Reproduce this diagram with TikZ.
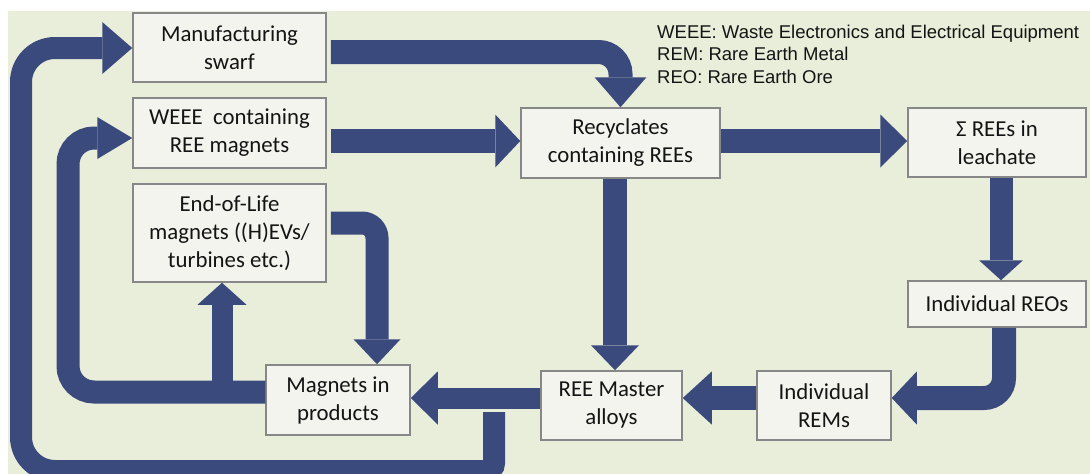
\documentclass[tikz,border=0pt]{standalone}
\usepackage{fontspec}
\setmainfont{Carlito}
\newfontfamily\legendfont{Liberation Sans}
\usetikzlibrary{arrows.meta}
\definecolor{bgc}{RGB}{233,238,218}
\definecolor{boxfill}{RGB}{244,244,239}
\definecolor{boxline}{RGB}{135,135,135}
\definecolor{arrowc}{RGB}{58,74,125}
\definecolor{txt}{RGB}{20,20,20}
\begin{document}
\begin{tikzpicture}[x=1pt,y=-1pt,
  box/.style={draw=boxline, fill=boxfill, line width=1.5pt, inner sep=0pt,
    align=center, text=txt, font=\fontsize{22.8}{28}\selectfont},
  flow/.style 2 args={draw=arrowc, line width=24pt, line cap=butt,
    -{Triangle[length=#1,width=#2,line width=0pt]}},
  legend/.style={anchor=base west, inner sep=0pt, text=txt,
    font=\legendfont\fontsize{18.5}{22.5}\selectfont}]
\useasboundingbox (0,0) rectangle (1090,474);
\fill[bgc] (8,11) rectangle (1090,474);

% boxes
\node[box, minimum width=193pt, minimum height=69pt] (ms) at (229.5,47.5) {Manufacturing\\swarf};
\node[box, minimum width=193pt, minimum height=70pt] (weee) at (229.5,133) {WEEE~ containing\\REE magnets};
\node[box, minimum width=193pt, minimum height=98pt] (eol) at (229.5,233) {End-of-Life\\magnets ((H)EVs/\\turbines etc.)};
\node[box, minimum width=199pt, minimum height=70pt] (rec) at (620.5,143) {Recyclates\\containing REEs};
\node[box, minimum width=178pt, minimum height=69pt] (sum) at (997,142.5) {Σ REEs in\\leachate};
\node[box, minimum width=178pt, minimum height=46pt] (reo) at (997,304) {Individual REOs};
\node[box, minimum width=134pt, minimum height=69pt] (rem) at (824,405.5) {Individual\\REMs};
\node[box, minimum width=141pt, minimum height=69pt] (mas) at (611.5,405.5) {REE Master\\alloys};
\node[box, minimum width=144pt, minimum height=70pt] (mag) at (338,400) {Magnets in\\products};

% legend
\node[legend] (l1) at (657,38) {WEEE: Waste Electronics and Electrical Equipment};
\node[legend] (l2) at (657,60.5) {REM: Rare Earth Metal};
\node[legend] (l3) at (657,83) {REO: Rare Earth Ore};

% helper coordinates
\coordinate (msOut) at ([xshift=4pt,yshift=-4.5pt]ms.east);
\coordinate (recIn) at ([yshift=2pt]rec.west);
\coordinate (weeeOut) at ([xshift=4pt]weee.east);
\coordinate (recOut) at ([yshift=2pt]rec.east);
\coordinate (sumIn) at ([yshift=1.5pt]sum.west);
\coordinate (remIn) at ([yshift=7.5pt]rem.east);
\coordinate (remOut) at ([yshift=7.5pt]rem.west);
\coordinate (masIn) at ([yshift=7.5pt]mas.east);
\coordinate (masOut) at ([yshift=7.5pt]mas.west);
\coordinate (magIn) at ([yshift=2pt]mag.east);
\coordinate (eolOut) at ([xshift=4pt,yshift=10pt]eol.east);
\coordinate (magTop) at ([xshift=39pt]mag.north);
\coordinate (mOut) at ([yshift=8pt]mag.west);
\coordinate (wIn) at ([yshift=-5pt]weee.west);
\coordinate (loopA) at (68,0);
\coordinate (eolIn) at ([xshift=-7.5pt]eol.south);
\coordinate (oStart) at (494,412);
\coordinate (oBot) at (0,471);
\coordinate (oLeft) at (21,0);
\coordinate (msIn) at ([yshift=-0.5pt]ms.west);

% connectors
\draw[flow={30pt}{52pt}, rounded corners=22pt] (msOut) -| (rec.north);
\draw[flow={25pt}{53pt}] (weeeOut |- recIn) -- (recIn);
\draw[flow={27pt}{53pt}] (recOut) -- (sumIn);
\draw[flow={20pt}{44pt}, line width=23pt] ([xshift=4pt]sum.south) -- ([xshift=4pt]reo.north);
\draw[flow={25pt}{53pt}, rounded corners=20pt] ([xshift=7pt]reo.south) |- (remIn);
\draw[flow={29pt}{53pt}] (remOut) -- (masIn);
\draw[flow={25pt}{48pt}] ([xshift=-5.5pt]rec.south) -- ([xshift=3.5pt]mas.north);
\draw[flow={27pt}{53pt}, line width=21pt] (masOut) -- (magIn);
\draw[flow={25pt}{47pt}, line width=23pt, rounded corners=15pt] (eolOut) -| (magTop);
\draw[flow={35pt}{42pt}, line width=23pt, rounded corners=26pt] (mOut) -| (loopA |- wIn) -- (wIn);
\draw[flow={22pt}{49pt}, line width=21pt] (eolIn |- mOut) -- (eolIn);
\draw[flow={30pt}{52pt}, line width=22pt, rounded corners=8pt] (oStart) -- (oStart |- oBot)
  [rounded corners=34pt] -- (oLeft |- oBot) -- (oLeft |- msIn) -- (msIn);
\end{tikzpicture}
\end{document}
